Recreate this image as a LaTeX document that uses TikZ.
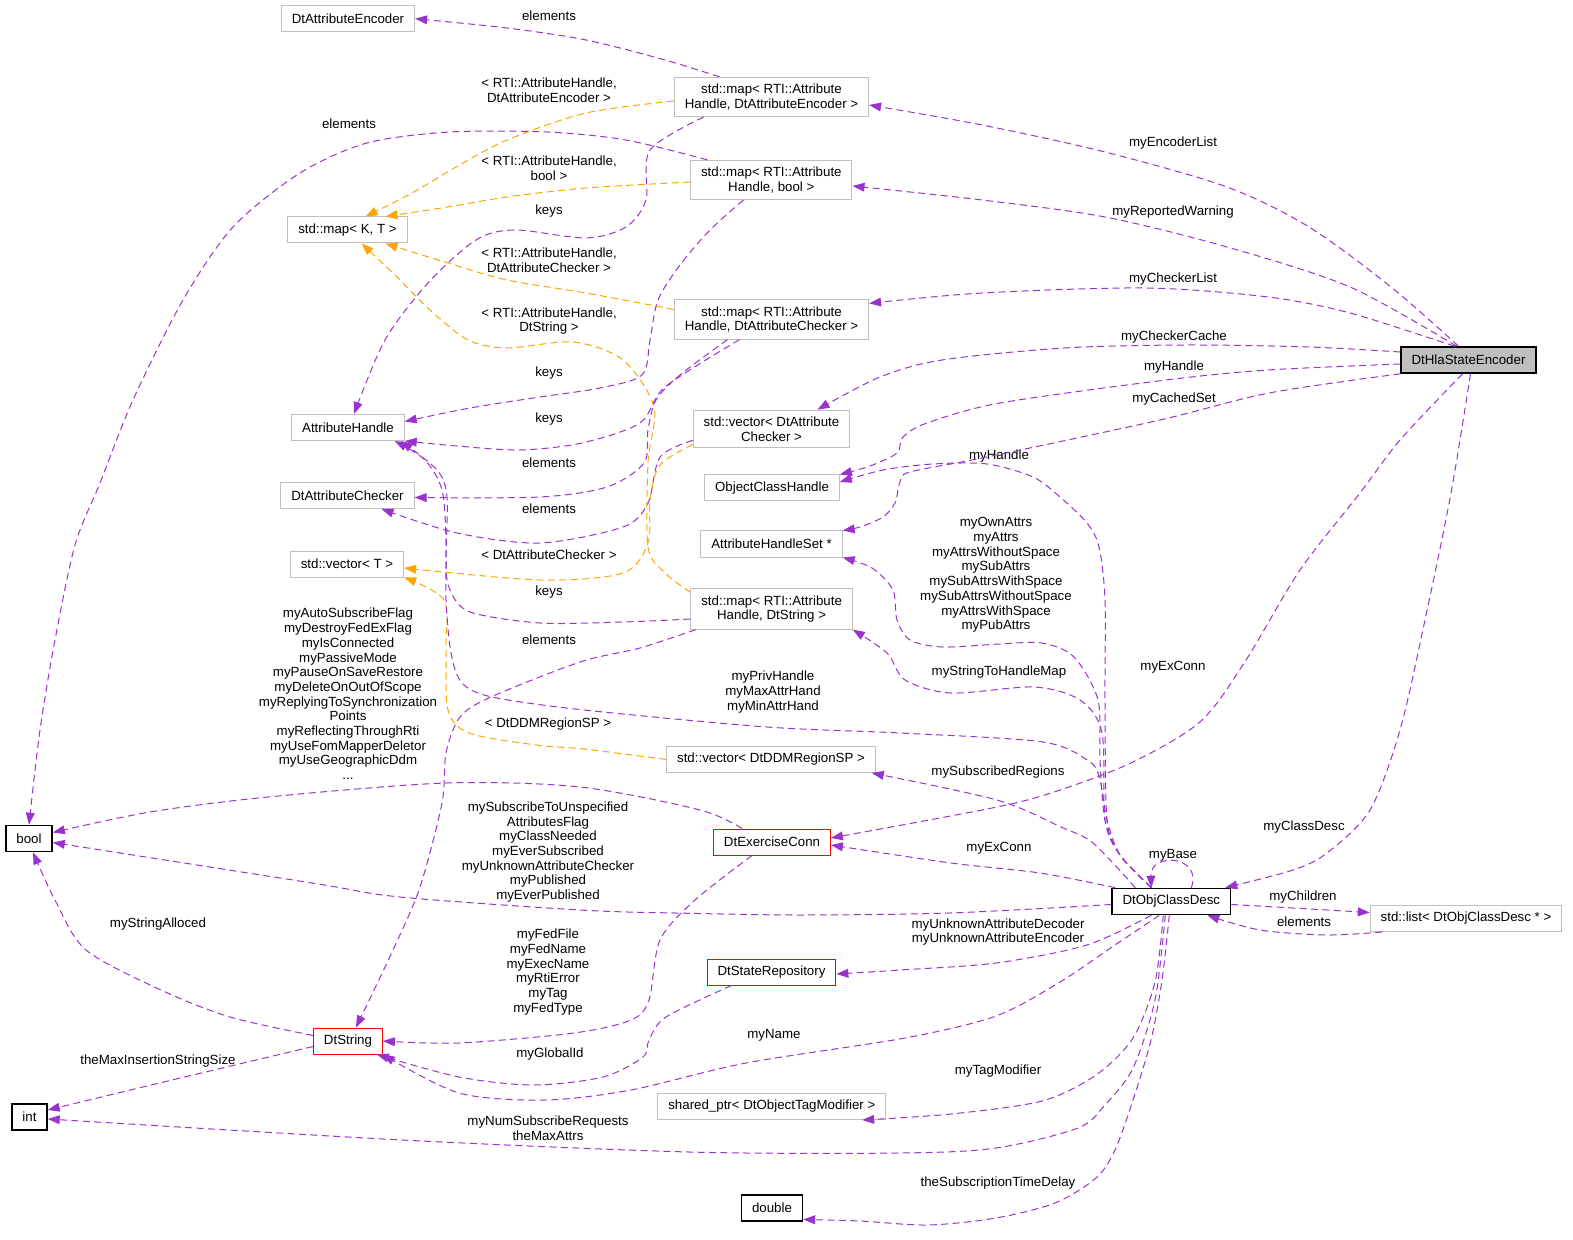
\documentclass[tikz,border=0pt]{standalone}
\usepackage{fontspec}
\setmainfont{Liberation Sans}
\usetikzlibrary{arrows.meta}
\definecolor{relpurple}{HTML}{9A32CD}
\definecolor{tplorange}{HTML}{FFA500}
\definecolor{boxgray}{HTML}{BFBFBF}

\begin{document}
\begin{tikzpicture}[->,>={Triangle[length=6pt,width=4.4pt]},x=0.5pt,y=-0.5pt,
font=\fontsize{6.65}{7.35}\selectfont]
\tikzstyle{cls}=[draw=boxgray,line width=0.5pt,fill=white,inner xsep=5.2pt,inner ysep=3.3pt,minimum height=13pt,align=center]
\tikzstyle{leaf}=[cls,draw=black,line width=0.8pt]
\tikzstyle{undoc}=[cls,draw=red]
\tikzstyle{focus}=[cls,draw=black,fill=boxgray,line width=0.8pt]
\tikzstyle{lbl}=[align=center,inner sep=0pt]
\tikzstyle{rel}=[relpurple,line width=0.5pt,dash pattern=on 3.5pt off 2.2pt]
\tikzstyle{tpl}=[rel,tplorange]

\useasboundingbox (0,0) rectangle (1573,1240);

\node[cls]   (attrEnc)    at (348,18.7)    {DtAttributeEncoder};
\node[cls]   (mapEnc)     at (771.5,97)    {std::map< RTI::Attribute\\Handle, DtAttributeEncoder >};
\node[cls]   (mapBool)    at (771.3,180)   {std::map< RTI::Attribute\\Handle, bool >};
\node[cls]   (mapKT)      at (347.5,230)   {std::map< K, T >};
\node[cls]   (mapChk)     at (771.5,319.5) {std::map< RTI::Attribute\\Handle, DtAttributeChecker >};
\node[cls]   (attrHandle) at (348,427.5)   {AttributeHandle};
\node[cls]   (vecChk)     at (771.5,429)   {std::vector< DtAttribute\\Checker >};
\node[cls]   (attrChk)    at (347.5,495.5) {DtAttributeChecker};
\node[cls]   (objHandle)  at (772,488)     {ObjectClassHandle};
\node[cls]   (handleSet)  at (771.5,544)   {AttributeHandleSet *};
\node[cls]   (vecT)       at (347,564)     {std::vector< T >};
\node[cls]   (mapStr)     at (771.6,609)   {std::map< RTI::Attribute\\Handle, DtString >};
\node[cls]   (vecDDM)     at (771,759.5)   {std::vector< DtDDMRegionSP >};
\node[leaf]  (bool)       at (29,838.5)    {bool};
\node[undoc] (exConn)     at (772,842)     {DtExerciseConn};
\node[leaf]  (objClass)   at (1171.3,901.5) {DtObjClassDesc};
\node[cls]   (listCls)    at (1466,918.5)  {std::list< DtObjClassDesc * >};
\node[undoc] (stateRepo)  at (771.5,972)   {DtStateRepository};
\node[undoc] (dtString)   at (348,1041)    {DtString};
\node[leaf]  (int)        at (29.5,1117)   {int};
\node[cls]   (sharedPtr)  at (771.8,1106.5) {shared\_ptr< DtObjectTagModifier >};
\node[leaf]  (double)     at (772,1207.7)  {double};
\node[focus] (hse)        at (1468.5,360)  {DtHlaStateEncoder};

\node[lbl] (l1)  at (549,16)   {elements};
\node[lbl] (l2)  at (549,90)   {< RTI::AttributeHandle,\\DtAttributeEncoder >};
\node[lbl] (l3)  at (349,124)  {elements};
\node[lbl] (l4)  at (549,168)  {< RTI::AttributeHandle,\\bool >};
\node[lbl] (l5)  at (549,211)  {keys};
\node[lbl] (l6)  at (549,260)  {< RTI::AttributeHandle,\\DtAttributeChecker >};
\node[lbl] (l7)  at (549,321)  {< RTI::AttributeHandle,\\DtString >};
\node[lbl] (l8)  at (549,373)  {keys};
\node[lbl] (l9)  at (549,419)  {keys};
\node[lbl] (l10) at (549,463)  {elements};
\node[lbl] (l11) at (549,509)  {elements};
\node[lbl] (l12) at (549,555)  {< DtAttributeChecker >};
\node[lbl] (l13) at (549,592)  {keys};
\node[lbl] (l14) at (549,640)  {elements};
\node[lbl] (l15) at (348,694)  {myAutoSubscribeFlag\\myDestroyFedExFlag\\myIsConnected\\myPassiveMode\\myPauseOnSaveRestore\\myDeleteOnOutOfScope\\myReplyingToSynchronization\\Points\\myReflectingThroughRti\\myUseFomMapperDeletor\\myUseGeographicDdm\\...};
\node[lbl] (l16) at (773,692)  {myPrivHandle\\myMaxAttrHand\\myMinAttrHand};
\node[lbl] (l17) at (548,724)  {< DtDDMRegionSP >};
\node[lbl] (l18) at (548,852)  {mySubscribeToUnspecified\\AttributesFlag\\myClassNeeded\\myEverSubscribed\\myUnknownAttributeChecker\\myPublished\\myEverPublished};
\node[lbl] (l19) at (158,924)  {myStringAlloced};
\node[lbl] (l20) at (548,972)  {myFedFile\\myFedName\\myExecName\\myRtiError\\myTag\\myFedType};
\node[lbl] (l21) at (550,1054) {myGlobalId};
\node[lbl] (l22) at (158,1061) {theMaxInsertionStringSize};
\node[lbl] (l23) at (774,1035) {myName};
\node[lbl] (l24) at (548,1128) {myNumSubscribeRequests\\theMaxAttrs};
\node[lbl] (l25) at (998,1071) {myTagModifier};
\node[lbl] (l26) at (998,1183) {theSubscriptionTimeDelay};
\node[lbl] (l27) at (998,932)  {myUnknownAttributeDecoder\\myUnknownAttributeEncoder};
\node[lbl] (l28) at (999,848)  {myExConn};
\node[lbl] (l29) at (998,772)  {mySubscribedRegions};
\node[lbl] (l30) at (999,672)  {myStringToHandleMap};
\node[lbl] (l31) at (996,575)  {myOwnAttrs\\myAttrs\\myAttrsWithoutSpace\\mySubAttrs\\mySubAttrsWithSpace\\mySubAttrsWithoutSpace\\myAttrsWithSpace\\myPubAttrs};
\node[lbl] (l32) at (999,456)  {myHandle};
\node[lbl] (l33) at (1173,667) {myExConn};
\node[lbl] (l34) at (1304,827) {myClassDesc};
\node[lbl] (l35) at (1173,855) {myBase};
\node[lbl] (l36) at (1303,897) {myChildren};
\node[lbl] (l37) at (1304,922) {elements};
\node[lbl] (l38) at (1173,143) {myEncoderList};
\node[lbl] (l39) at (1173,212) {myReportedWarning};
\node[lbl] (l40) at (1173,279) {myCheckerList};
\node[lbl] (l41) at (1174,337) {myCheckerCache};
\node[lbl] (l42) at (1174,367) {myHandle};
\node[lbl] (l43) at (1174,399) {myCachedSet};

\draw[rel] plot[smooth] coordinates {([xshift=-26pt]mapEnc.north) (665,60) (586,40) (507,28) (attrEnc.east)};
\draw[tpl] plot[smooth] coordinates {([yshift=-2pt]mapEnc.west) (586,113) (507,140) (456,167) (412,193) ([xshift=9pt]mapKT.north)};
\draw[rel] plot[smooth] coordinates {([xshift=-34pt]mapEnc.south) (650,150) (646,200) (626,227) (586,238) (515,230) (476,240) (428,283) (385,340) ([xshift=3pt]attrHandle.north)};
\draw[rel] plot[smooth] coordinates {([xshift=-32pt]mapBool.north) (626,140) (547,132) (450,132) (367,143) (300,173) (233,227) (183,300) (133,400) (100,483) (75,545) (55,640) (40,730) (bool.north)};
\draw[tpl] plot[smooth] coordinates {([yshift=-1pt]mapBool.west) (586,188) (507,197) (448,207) ([xshift=19pt]mapKT.north)};
\draw[rel] plot[smooth] coordinates {([xshift=-14pt]mapBool.south) (710,230) (680,265) (658,300) (650,340) (642,375) (600,388) (540,397) (470,408) ([yshift=3pt]attrHandle.east)};
\draw[rel] plot[smooth] coordinates {([xshift=-16pt]mapChk.south) (665,387) (640,423) (582,443) (520,450) (457,446) (attrHandle.south east)};
\draw[rel] plot[smooth] coordinates {([xshift=-22pt]mapChk.south) (680,375) (656,400) (648,430) (644,463) (607,487) (540,497) ([yshift=-1pt]attrChk.east)};
\draw[rel] plot[smooth] coordinates {([yshift=4pt]vecChk.south west) (660,457) (648,503) (623,527) (540,543) (457,533) ([xshift=17pt]attrChk.south)};
\draw[tpl] plot[smooth] coordinates {([yshift=2pt]vecChk.south west) (660,465) (650,500) (648,543) (623,573) (540,580) ([yshift=-2pt]vecT.east)};
\draw[tpl] plot[smooth] coordinates {([yshift=5pt]mapChk.west) (586,293) (507,280) (448,263) ([xshift=19pt]mapKT.south)};
\draw[tpl] plot[smooth] coordinates {([yshift=-2pt]mapStr.north west) (665,573) (648,547) (648,463) (654,407) (623,360) (573,342) (507,348) (468,340) (430,310) (395,275) ([xshift=7pt]mapKT.south)};
\draw[rel] plot[smooth] coordinates {([yshift=-5pt]mapStr.west) (623,622) (540,623) (470,612) (450,590) (446,563) (447,497) (437,470) ([xshift=-2pt]attrHandle.south east)};
\draw[rel] plot[smooth] coordinates {([xshift=-38pt]mapStr.south) (640,648) (580,662) (491,697) (460,717) (446,753) (442,803) (420,887) (393,950) ([xshift=4pt]dtString.north)};
\draw[tpl] plot[smooth] coordinates {(vecDDM.west) (584,749) (536,745) (469,733) (448,710) (446,650) (444,600) (vecT.south east)};
\draw[rel] plot[smooth] coordinates {([xshift=-15pt]exConn.north) (700,810) (580,787) (446,783) (268,797) (150,812) ([yshift=3pt]bool.east)};
\draw[rel] plot[smooth] coordinates {([xshift=-10pt]exConn.south) (695,900) (660,940) (649,1000) (631,1020) (574,1033) (459,1043) (dtString.east)};
\draw[rel] plot[smooth] coordinates {([xshift=-20pt]stateRepo.south) (666,1017) (649,1040) (643,1057) (603,1077) (534,1085) (459,1077) ([xshift=-3pt]dtString.south east)};
\draw[rel] plot[smooth] coordinates {([yshift=-4pt]dtString.north west) (230,1017) (161,990) (86,950) (55,900) ([xshift=2pt]bool.south)};
\draw[rel] plot[smooth] coordinates {([yshift=4pt]dtString.south west) (172,1080) ([yshift=3.5pt]int.east)};
\draw[rel] plot[smooth] coordinates {([xshift=-3pt]objClass.south) (1155,1000) (1133,1068) (1105,1105) (1078,1128) (996,1148) (900,1153) (689,1152) (402,1140) ([yshift=-1pt]int.east)};
\draw[rel] plot[smooth] coordinates {([xshift=-1pt]objClass.south) (1162,980) (1151,1040) (1133,1100) (1115,1150) (1096,1178) (1055,1203) (996,1218) (928,1225) (860,1221) ([yshift=1pt]double.south east)};
\draw[rel] plot[smooth] coordinates {([xshift=-10pt]objClass.south) (1087,945) (996,963) (900,970) ([yshift=-1pt]stateRepo.east)};
\draw[rel] plot[smooth] coordinates {([xshift=-6pt]objClass.south) (1115,945) (1060,982) (996,1016) (905,1038) (746,1063) (631,1090) (545,1100) (459,1093) (dtString.south east)};
\draw[rel] plot[smooth] coordinates {([xshift=-4pt]objClass.south) (1155,982) (1133,1038) (1096,1075) (1042,1101) (951,1114) ([xshift=-12pt]sharedPtr.south east)};
\draw[rel] plot[smooth] coordinates {([yshift=-1.5pt]objClass.west) (950,913) (800,915) (675,913) (580,910) (400,897) (312,883) ([yshift=-2pt]bool.east)};
\draw[rel] plot[smooth] coordinates {([xshift=2pt]objClass.north west) (1040,873) (951,863) ([yshift=-1.5pt]exConn.east)};
\draw[rel] plot[smooth] coordinates {([xshift=-18pt]objClass.north) (1093,843) (1061,827) (997,800) ([xshift=-2pt]vecDDM.south east)};
\draw[rel] plot[smooth] coordinates {([xshift=-10pt]objClass.north) (1120,855) (1105,820) (1102,733) (1080,700) (1034,687) (951,693) (905,680) (887,653) (mapStr.south east)};
\draw[rel] plot[smooth] coordinates {([xshift=-10pt]objClass.north) (1120,855) (1105,820) (1100,760) (1098,700) (1074,657) (1042,643) (1000,644) (942,647) (910,640) (897,620) (893,590) (872,568) (handleSet.south east)};
\draw[rel] plot[smooth] coordinates {([xshift=-10pt]objClass.north) (1120,855) (1107,820) (1105,700) (1105,600) (1099,547) (1087,523) (1060,497) (1033,477) (987,464) (933,464) (883,470) ([yshift=3pt]objHandle.east)};
\draw[rel] plot[smooth] coordinates {([xshift=-10pt]objClass.north) (1120,855) (1107,820) (1100,780) (1090,762) (1043,742) (900,733) (767,727) (584,710) (492,697) (462,683) (451,653) (446,600) (446,540) (442,490) (425,460) ([xshift=-5pt]attrHandle.south east)};
\draw[rel] ([xshift=10pt]objClass.north) .. controls (1203,855) and (1150,852) .. ([xshift=-10pt]objClass.north);
\draw[rel] plot[smooth] coordinates {([yshift=-1.5pt]objClass.east) (1293,908) ([yshift=3pt]listCls.west)};
\draw[rel] plot[smooth] coordinates {([xshift=-42pt]listCls.south) (1327,935) (1260,930) ([xshift=18pt]objClass.south)};
\draw[rel] plot[smooth] coordinates {([xshift=-5pt]hse.north) (1391,287) (1309,227) (1227,187) (1105,152) (982,125) ([yshift=-4pt]mapEnc.east)};
\draw[rel] plot[smooth] coordinates {([xshift=-6pt]hse.north) (1350,287) (1227,247) (1105,217) (982,200) ([yshift=-3pt]mapBool.east)};
\draw[rel] plot[smooth] coordinates {([xshift=-7pt]hse.north) (1350,313) (1268,297) (1146,288) (982,293) ([yshift=-2pt]mapChk.north east)};
\draw[rel] plot[smooth] coordinates {([yshift=4pt]hse.west) (1309,347) (1187,345) (1064,348) (942,360) (880,377) ([xshift=23pt]vecChk.north)};
\draw[rel] plot[smooth] coordinates {([yshift=-2pt]hse.west) (1268,370) (1166,380) (1000,403) (927,423) (903,437) (897,453) (870,466) (objHandle.north east)};
\draw[rel] plot[smooth] coordinates {(hse.south west) (1269,393) (1160,420) (987,457) (910,472) (900,482) (895,503) (883,517) (860,527) (handleSet.north east)};
\draw[rel] plot[smooth] coordinates {([xshift=-3pt]hse.south) (1400,440) (1360,493) (1300,570) (1246,660) (1201,721) (1133,762) (1060,790) (997,807) ([yshift=2pt]exConn.east)};
\draw[rel] plot[smooth] coordinates {([xshift=1pt]hse.south) (1451,493) (1425,620) (1400,730) (1370,810) (1327,853) (1293,870) ([xshift=-3pt]objClass.north east)};
\end{tikzpicture}
\end{document}
